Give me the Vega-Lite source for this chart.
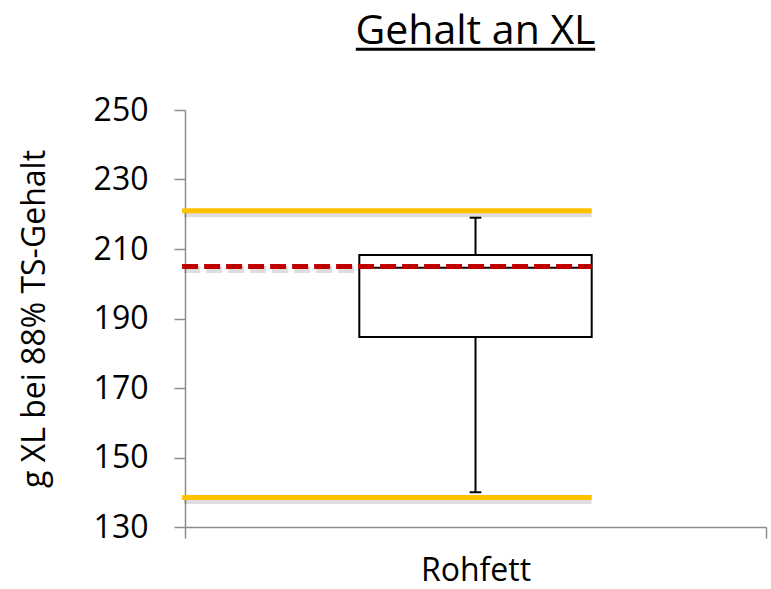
{
  "$schema": "https://vega.github.io/schema/vega-lite/v6.json",
  "width": 581,
  "height": 417,
  "autosize": "none",
  "padding": {"left": 185, "top": 110, "right": 5, "bottom": 62},
  "background": "white",
  "title": {
    "text": "Gehalt an XL",
    "font": "Open Sans",
    "fontSize": 41,
    "fontWeight": "normal",
    "color": "#000000",
    "anchor": "middle",
    "frame": "group",
    "offset": -5
  },
  "config": {
    "view": {"stroke": null},
    "axis": {
      "grid": false,
      "domainColor": "#8c8c8c",
      "domainWidth": 1.5,
      "tickColor": "#8c8c8c",
      "tickWidth": 1.5,
      "tickSize": 11,
      "labelFont": "Open Sans",
      "labelFontSize": 32,
      "labelColor": "#000000",
      "titleFont": "Open Sans",
      "titleFontSize": 32,
      "titleFontWeight": "normal",
      "titleColor": "#000000"
    }
  },
  "datasets": {
    "box": [
      {"category": "Rohfett", "lower": 140, "q1": 184.7, "median": 204.6, "q3": 208.3, "upper": 219}
    ],
    "refs": [
      {"name": "Obergrenze", "value": 221, "kind": "limit"},
      {"name": "Untergrenze", "value": 138.5, "kind": "limit"},
      {"name": "Mittelwert", "value": 205, "kind": "mean"}
    ]
  },
  "encoding": {
    "x": {
      "type": "quantitative",
      "scale": {"domain": [0, 1], "nice": false, "zero": false},
      "axis": {"values": [0, 1], "labels": false, "title": "Rohfett", "titlePadding": 17}
    },
    "y": {
      "type": "quantitative",
      "scale": {"domain": [130, 250], "nice": false, "zero": false},
      "axis": {"values": [130, 150, 170, 190, 210, 230, 250], "title": "g XL bei 88% TS-Gehalt", "labelPadding": 26, "titlePadding": 42}
    }
  },
  "layer": [
    {
      "data": {"name": "refs"},
      "transform": [{"filter": "datum.kind === 'limit'"}],
      "mark": {"type": "rule", "color": "#000000", "opacity": 0.13, "strokeWidth": 7, "yOffset": 3, "xOffset": 2},
      "encoding": {"x": {"datum": -0.005}, "x2": {"datum": 0.7}, "y": {"field": "value"}}
    },
    {
      "data": {"name": "refs"},
      "transform": [{"filter": "datum.kind === 'mean'"}],
      "mark": {"type": "rule", "color": "#000000", "opacity": 0.13, "strokeWidth": 7, "yOffset": 3, "xOffset": 2, "strokeDash": [16, 6]},
      "encoding": {"x": {"datum": -0.005}, "x2": {"datum": 0.7}, "y": {"field": "value"}}
    },
    {
      "data": {"name": "box"},
      "mark": {"type": "rule", "color": "#000000", "strokeWidth": 2},
      "encoding": {"x": {"datum": 0.5}, "y": {"field": "lower"}, "y2": {"field": "upper"}}
    },
    {
      "data": {"name": "box"},
      "mark": {"type": "rule", "color": "#000000", "strokeWidth": 2},
      "encoding": {"x": {"datum": 0.49}, "x2": {"datum": 0.51}, "y": {"field": "lower"}}
    },
    {
      "data": {"name": "box"},
      "mark": {"type": "rule", "color": "#000000", "strokeWidth": 2},
      "encoding": {"x": {"datum": 0.49}, "x2": {"datum": 0.51}, "y": {"field": "upper"}}
    },
    {
      "data": {"name": "box"},
      "mark": {"type": "rect", "fill": "#ffffff", "stroke": "#000000", "strokeWidth": 2},
      "encoding": {"x": {"datum": 0.3}, "x2": {"datum": 0.7}, "y": {"field": "q1"}, "y2": {"field": "q3"}}
    },
    {
      "data": {"name": "box"},
      "mark": {"type": "rule", "color": "#000000", "strokeWidth": 2},
      "encoding": {"x": {"datum": 0.3}, "x2": {"datum": 0.7}, "y": {"field": "median"}}
    },
    {
      "data": {"name": "refs"},
      "transform": [{"filter": "datum.kind === 'limit'"}],
      "mark": {"type": "rule", "color": "#FFC000", "strokeWidth": 5},
      "encoding": {"x": {"datum": -0.005}, "x2": {"datum": 0.7}, "y": {"field": "value"}}
    },
    {
      "data": {"name": "refs"},
      "transform": [{"filter": "datum.kind === 'mean'"}],
      "mark": {"type": "rule", "color": "#C00000", "strokeWidth": 5, "strokeDash": [16, 6]},
      "encoding": {"x": {"datum": -0.005}, "x2": {"datum": 0.7}, "y": {"field": "value"}}
    },
    {
      "data": {"values": [{"part": "underline"}]},
      "mark": {"type": "rule", "color": "#000000", "strokeWidth": 3},
      "encoding": {"x": {"datum": 0.294}, "x2": {"datum": 0.706}, "y": {"datum": 267.5}}
    }
  ]
}
